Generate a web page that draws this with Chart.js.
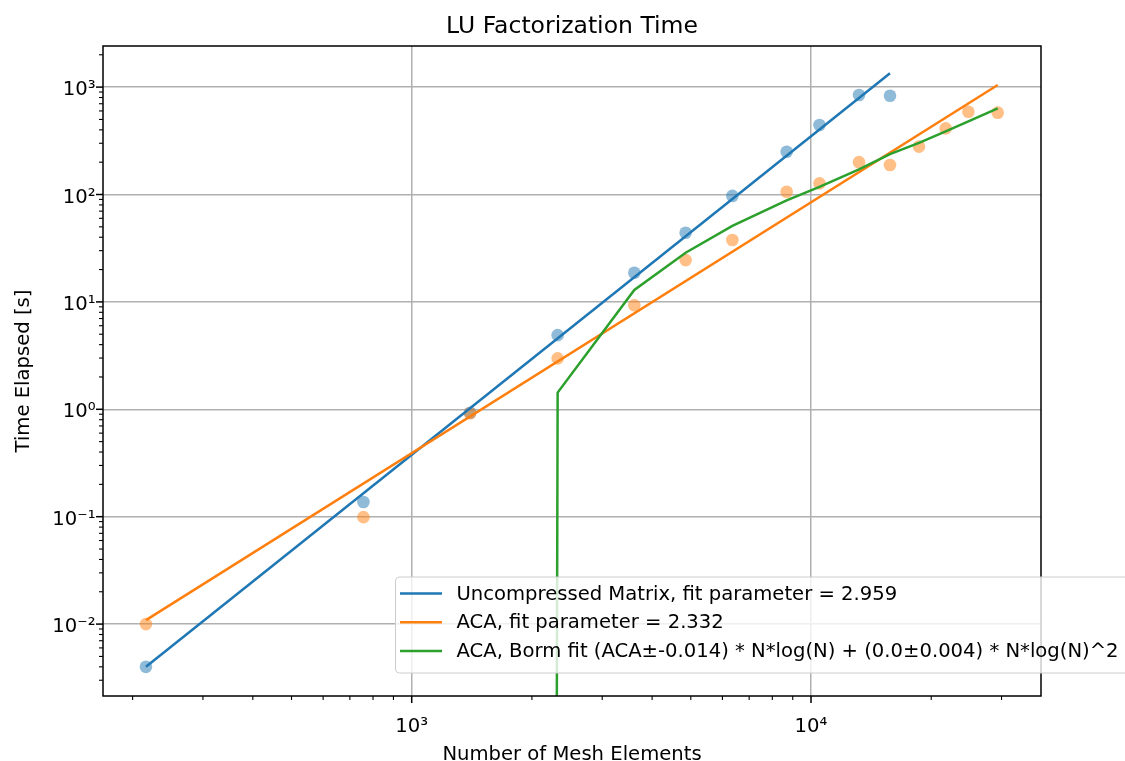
<!DOCTYPE html>
<html>
<head>
<meta charset="utf-8">
<script src="https://cdn.jsdelivr.net/npm/chart.js@4.4.1/dist/chart.umd.min.js"></script>
<style>
  html, body { margin: 0; padding: 0; background: #fff; overflow: hidden; }
  #wrap { width: 1125px; height: 761px; }
</style>
</head>
<body>
<div id="wrap"><canvas id="luChart" width="1125" height="761"></canvas></div>
<script>
// number of mesh elements for each run
const meshN = [216, 757, 1400, 2320, 3610, 4853, 6354, 8690, 10500, 13190, 15770, 18640, 21740, 24780, 29350];
// measured factorization times [s]
const denseTime = [0.0040, 0.137, 0.93, 4.9, 18.7, 44, 97, 250, 444, 844, 832];
const acaTime = [0.010, 0.099, 0.92, 2.98, 9.3, 24.5, 37.7, 106, 127, 200, 188, 279, 413, 590, 578];

// fit lines (straight in log-log, so only the end points)
const denseFitN = [216, 15770];
const denseFitT = [0.0040, 1344];
const acaFitN = [216, 29350];
const acaFitT = [0.0109, 1046];
// Borm fit is negative up to N=1400, matplotlib clips that to ~0 on a log axis
const bormFitN = [1400, 2320, 3610, 4853, 6354, 8690, 10500, 13190, 15770, 18640, 21740, 24780, 29350];
const bormFitT = [1e-300, 1.43, 12.9, 28.7, 51, 88, 118, 171, 238, 302, 387, 480, 635];

const legendLabels = [
    'Uncompressed Matrix, fit parameter = 2.959',
    'ACA, fit parameter = 2.332',
    'ACA, Borm fit (ACA\u00b1-0.014) * N*log(N) + (0.0\u00b10.004) * N*log(N)^2'
];
const legendColors = ['#1f77b4', '#ff7f0e', '#2ca02c'];

const xTickValues = [1e3, 1e4];
const xTickLabels = ['10\u00b3', '10\u2074'];
const yTickValues = [1e-2, 1e-1, 1, 1e1, 1e2, 1e3];
const yTickLabels = ['10\u207b\u00b2', '10\u207b\u00b9', '10\u2070', '10\u00b9', '10\u00b2', '10\u00b3'];

const xRange = [168.6, 37670];
const yRange = [0.00214, 2414];

const FONT = '"DejaVu Sans", sans-serif';
const LINE_W = 2.5;

function pairs(xs, ys) {
    return ys.map((y, i) => ({x: xs[i], y: y}));
}

// major + minor ticks like matplotlib's LogLocator
function logTicks(min, max) {
    const out = [];
    for (let e = Math.floor(Math.log10(min)); e <= Math.ceil(Math.log10(max)); e++) {
        for (let k = 1; k < 10; k++) {
            const v = k * Math.pow(10, e);
            if (v >= min && v <= max) out.push({value: v, major: k === 1});
        }
    }
    return out;
}

function labelFor(values, labels) {
    return function(v) {
        const i = values.findIndex(t => Math.abs(t - v) / t < 1e-6);
        return i >= 0 ? labels[i] : '';
    };
}

// ticks, spines, legend and titles drawn the matplotlib way
const mplFrame = {
    id: 'mplFrame',
    afterDatasetsDraw(chart) {
        const {ctx, chartArea: a, scales} = chart;
        ctx.save();
        ctx.strokeStyle = '#000';
        scales.x.ticks.forEach(t => {
            const px = scales.x.getPixelForValue(t.value);
            ctx.lineWidth = t.major ? 1.5 : 1.1;
            ctx.beginPath();
            ctx.moveTo(px, a.bottom);
            ctx.lineTo(px, a.bottom + (t.major ? 7 : 4));
            ctx.stroke();
        });
        scales.y.ticks.forEach(t => {
            const py = scales.y.getPixelForValue(t.value);
            ctx.lineWidth = t.major ? 1.5 : 1.1;
            ctx.beginPath();
            ctx.moveTo(a.left, py);
            ctx.lineTo(a.left - (t.major ? 7 : 4), py);
            ctx.stroke();
        });
        ctx.lineWidth = 1.5;
        ctx.strokeRect(a.left, a.top, a.right - a.left, a.bottom - a.top);

        // legend box
        const lx = 395.5, ly = 577, lw = 900, lh = 96, r = 4;
        ctx.beginPath();
        ctx.moveTo(lx + r, ly);
        ctx.lineTo(lx + lw - r, ly);
        ctx.arcTo(lx + lw, ly, lx + lw, ly + r, r);
        ctx.lineTo(lx + lw, ly + lh - r);
        ctx.arcTo(lx + lw, ly + lh, lx + lw - r, ly + lh, r);
        ctx.lineTo(lx + r, ly + lh);
        ctx.arcTo(lx, ly + lh, lx, ly + lh - r, r);
        ctx.lineTo(lx, ly + r);
        ctx.arcTo(lx, ly, lx + r, ly, r);
        ctx.closePath();
        ctx.fillStyle = 'rgba(255,255,255,0.8)';
        ctx.fill();
        ctx.strokeStyle = '#cccccc';
        ctx.lineWidth = 1;
        ctx.stroke();
        ctx.font = '19.6px ' + FONT;
        ctx.textBaseline = 'middle';
        ctx.textAlign = 'left';
        legendLabels.forEach((lab, i) => {
            const yy = ly + 16.5 + i * 28.7;
            ctx.strokeStyle = legendColors[i];
            ctx.lineWidth = LINE_W;
            ctx.beginPath();
            ctx.moveTo(400, yy);
            ctx.lineTo(442, yy);
            ctx.stroke();
            ctx.fillStyle = '#000';
            ctx.fillText(lab, 456.5, yy + 1);
        });

        // title and axis titles
        const cx = (a.left + a.right) / 2;
        ctx.fillStyle = '#000';
        ctx.textAlign = 'center';
        ctx.textBaseline = 'alphabetic';
        ctx.font = '23.5px ' + FONT;
        ctx.fillText('LU Factorization Time', cx, 33);
        ctx.font = '19.6px ' + FONT;
        ctx.fillText('Number of Mesh Elements', cx, 759.5);
        ctx.translate(28.5, (a.top + a.bottom) / 2);
        ctx.rotate(-Math.PI / 2);
        ctx.fillText('Time Elapsed [s]', 0, 0);
        ctx.restore();
    }
};

const gridColor = c => (c.tick && c.tick.major) ? '#b0b0b0' : 'rgba(0,0,0,0)';

new Chart(document.getElementById('luChart').getContext('2d'), {
    type: 'scatter',
    data: {
        datasets: [
            {
                label: legendLabels[2], data: pairs(bormFitN, bormFitT), showLine: true,
                borderColor: legendColors[2], borderWidth: LINE_W, pointRadius: 0, order: 1
            },
            {
                label: legendLabels[1], data: pairs(acaFitN, acaFitT), showLine: true,
                borderColor: legendColors[1], borderWidth: LINE_W, pointRadius: 0, order: 2
            },
            {
                label: legendLabels[0], data: pairs(denseFitN, denseFitT), showLine: true,
                borderColor: legendColors[0], borderWidth: LINE_W, pointRadius: 0, order: 3
            },
            {
                label: 'ACA data', data: pairs(meshN, acaTime),
                pointRadius: 6.3, pointBorderWidth: 0,
                pointBackgroundColor: 'rgba(255,127,14,0.5)', order: 4
            },
            {
                label: 'Uncompressed data', data: pairs(meshN, denseTime),
                pointRadius: 6.3, pointBorderWidth: 0,
                pointBackgroundColor: 'rgba(31,119,180,0.5)', order: 5
            }
        ]
    },
    options: {
        responsive: false,
        animation: false,
        devicePixelRatio: 1,
        layout: { padding: { top: 46, right: 84, left: 0, bottom: 0 } },
        plugins: {
            legend: { display: false },
            title: { display: false },
            tooltip: { enabled: false }
        },
        scales: {
            x: {
                type: 'logarithmic',
                position: 'bottom',
                min: xRange[0],
                max: xRange[1],
                afterBuildTicks: s => { s.ticks = logTicks(xRange[0], xRange[1]); },
                afterFit: s => { s.height = 65; },
                ticks: {
                    autoSkip: false, maxRotation: 0, padding: 19,
                    color: '#000', font: { family: FONT, size: 19.6 },
                    callback: labelFor(xTickValues, xTickLabels)
                },
                grid: { color: gridColor, lineWidth: 1.5, drawTicks: false },
                border: { display: false }
            },
            y: {
                type: 'logarithmic',
                position: 'left',
                min: yRange[0],
                max: yRange[1],
                afterBuildTicks: s => { s.ticks = logTicks(yRange[0], yRange[1]); },
                afterFit: s => { s.width = 103; },
                ticks: {
                    autoSkip: false, padding: 7.5, labelOffset: 3,
                    color: '#000', font: { family: FONT, size: 19.6 },
                    callback: labelFor(yTickValues, yTickLabels)
                },
                grid: { color: gridColor, lineWidth: 1.5, drawTicks: false },
                border: { display: false }
            }
        }
    },
    plugins: [mplFrame]
});
</script>
</body>
</html>
